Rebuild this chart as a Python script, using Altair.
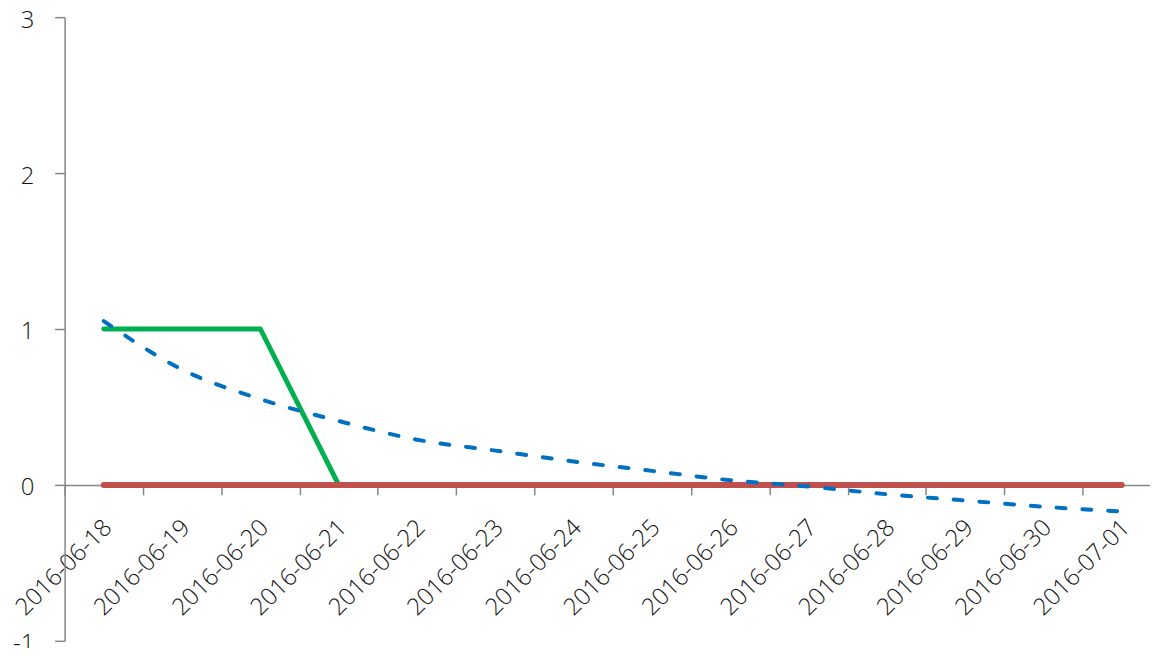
import altair as alt
import pandas as pd

dates = ["2016-06-18", "2016-06-19", "2016-06-20", "2016-06-21", "2016-06-22",
         "2016-06-23", "2016-06-24", "2016-06-25", "2016-06-26", "2016-06-27",
         "2016-06-28", "2016-06-29", "2016-06-30", "2016-07-01"]
green_vals = [1, 1, 1, 0, 0, 0, 0, 0, 0, 0, 0, 0, 0, 0]
red_vals = [0, 0, 0, 0, 0, 0, 0, 0, 0, 0, 0, 0, 0, 0]
trend_vals = [1.05, 0.74, 0.55, 0.41, 0.29, 0.22, 0.15, 0.09, 0.03, -0.01,
              -0.06, -0.10, -0.14, -0.17]
y_ticks = [-1, 0, 1, 2, 3]

df_green = pd.DataFrame({"date": dates, "value": green_vals})
df_red = pd.DataFrame({"date": dates, "value": red_vals})
df_trend = pd.DataFrame({"date": dates, "value": trend_vals})

FONT = "Open Sans"
GRAY = "#868686"

x_enc = alt.X(
    "date:O",
    sort=dates,
    bandPosition=0.5,
    scale=alt.Scale(type="band", paddingInner=0, paddingOuter=0, range=[0, 1104]),
    axis=alt.Axis(
        title=None,
        offset=-157,
        domainColor=GRAY,
        domainWidth=1.5,
        tickColor=GRAY,
        tickWidth=1.5,
        tickSize=10,
        tickBand="extent",
        labelAngle=-45,
        labelAlign="right",
        labelBaseline="middle",
        labelPadding=29,
        labelOffset=4,
        labelFont=FONT,
        labelFontSize=24,
        labelFontWeight=300,
        labelColor="#111111",
        grid=False,
        labelOverlap=False,
    ),
)

y_enc = alt.Y(
    "value:Q",
    scale=alt.Scale(domain=[-1, 3], nice=False, zero=False),
    axis=alt.Axis(
        title=None,
        values=y_ticks,
        labelExpr="'' + datum.value",
        domainColor=GRAY,
        domainWidth=1.5,
        tickColor=GRAY,
        tickWidth=1.5,
        tickSize=10,
        labelPadding=21,
        labelOffset=3,
        labelFont=FONT,
        labelFontSize=24,
        labelFontWeight=300,
        labelColor="#111111",
        grid=False,
    ),
)

green = alt.Chart(df_green).mark_line(
    color="#00B050", strokeWidth=5, strokeCap="round", strokeJoin="round"
).encode(x=x_enc, y=y_enc)

red = alt.Chart(df_red).mark_line(
    color="#C0504D", strokeWidth=6, strokeCap="round", strokeJoin="round"
).encode(x=x_enc, y=y_enc)

trend = alt.Chart(df_trend).mark_line(
    color="#0070C0", strokeWidth=4, strokeDash=[9, 17], strokeCap="round",
    interpolate="monotone"
).encode(x=x_enc, y=y_enc)

chart = alt.layer(green, red, trend).properties(
    width=1093,
    height=628,
    autosize=alt.AutoSizeParams(type="none"),
    padding={"left": 57, "top": 7, "right": 0, "bottom": 5},
    background="white",
).configure_view(stroke=None)

chart.save("out.html", embed_options={"renderer": "svg", "actions": False})
